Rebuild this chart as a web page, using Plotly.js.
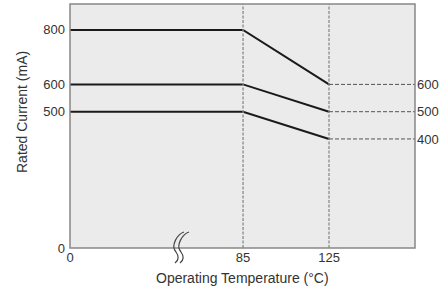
<!DOCTYPE html>
<html><head><meta charset="utf-8">
<script src="https://cdn.plot.ly/plotly-3.0.1.min.js"></script>
<style>html,body{margin:0;padding:0;background:#fff}#c{width:446px;height:293px}</style>
</head><body><div id="c"></div>
<script>
const temps = [0, 85, 125];
const currentHigh = [800, 800, 600];
const currentMid = [600, 600, 500];
const currentLow = [500, 500, 400];
const leftTicks = [0, 500, 600, 800];
const rightTicks = [600, 500, 400];
const xTicksLow = [0];
const xTicksHigh = [85, 125];
const markerTemps = [85, 125];

const W = 446, H = 293, L = 70, R = 415, T = 4, B = 248;
const yMax = 895, x2Min = 56.6, x2Max = 165, x1Max = 50;
const split = (182 - L) / (R - L);
const px = v => (v - L) / (R - L), py = v => (B - v) / (B - T);

const traces = [];
const series = [currentHigh, currentMid, currentLow];
for (const ax of ['x', 'x2']) {
  for (const s of series) {
    traces.push({x: temps, y: s, xaxis: ax, yaxis: 'y', mode: 'lines',
      line: {color: '#1a1a1a', width: 2}, hoverinfo: 'skip', showlegend: false});
  }
}
for (const t of markerTemps) {
  traces.push({x: [t, t], y: [0, yMax], xaxis: 'x2', yaxis: 'y', mode: 'lines',
    line: {color: '#8a8a8a', width: 1.3, dash: '3px,1.5px'}, hoverinfo: 'skip', showlegend: false});
}
for (const s of series) {
  const v = s[s.length - 1];
  traces.push({x: [temps[temps.length - 1], x2Max], y: [v, v], xaxis: 'x2', yaxis: 'y2', mode: 'lines',
    line: {color: '#555', width: 1, dash: '4px,2px'}, hoverinfo: 'skip', showlegend: false});
}

const font = {family: 'Liberation Sans, Arial, sans-serif', size: 13, color: '#333'};
const titleFont = {family: 'Liberation Sans, Arial, sans-serif', size: 14, color: '#333'};
const P = (x, y) => `${px(x)},${py(y)}`;
const squig = (d) =>
  `M ${P(186 + d, 232)} C ${P(180 + d, 234)} ${P(172 + d, 245)} ${P(178 + d, 252)} C ${P(181 + d, 256)} ${P(181 + d, 260)} ${P(177 + d, 263)}`;
const shapes = [
  {type: 'rect', xref: 'paper', yref: 'paper', x0: px(176.5), x1: px(180.5), y0: py(246), y1: py(250),
    fillcolor: '#fff', line: {width: 0}, layer: 'above'},
  {type: 'rect', xref: 'paper', yref: 'paper', x0: 0, x1: 1, y0: 0, y1: 1,
    line: {color: '#888', width: 1.5}, layer: 'above'},
  {type: 'path', xref: 'paper', yref: 'paper', path: squig(-2), line: {color: '#444', width: 1.2}, layer: 'above'},
  {type: 'path', xref: 'paper', yref: 'paper', path: squig(3), line: {color: '#444', width: 1.2}, layer: 'above'}
];

const layout = {
  width: W, height: H,
  margin: {l: L, r: W - R, t: T, b: H - B},
  paper_bgcolor: '#fff', plot_bgcolor: '#ebebeb',
  font: font, showlegend: false,
  xaxis: {domain: [0, split], range: [0, x1Max], tickvals: xTicksLow, ticktext: xTicksLow.map(String),
    showgrid: false, zeroline: false, showline: false, ticks: '', anchor: 'y', tickfont: font},
  xaxis2: {domain: [split, 1], range: [x2Min, x2Max], tickvals: xTicksHigh, ticktext: xTicksHigh.map(String),
    showgrid: false, zeroline: false, showline: false, ticks: '', anchor: 'y', tickfont: font},
  yaxis: {range: [0, yMax], tickvals: leftTicks, ticktext: leftTicks.map(String), showgrid: false,
    zeroline: false, showline: false, ticks: '', anchor: 'x', tickfont: font, ticklabelstandoff: 4},
  yaxis2: {range: [0, yMax], overlaying: 'y', side: 'right', anchor: 'x2', tickvals: rightTicks,
    ticktext: rightTicks.map(String), showgrid: false, zeroline: false, showline: false, ticks: '',
    tickfont: font, ticklabelstandoff: 1},
  shapes: shapes,
  annotations: [
    {text: 'Operating Temperature (°C)', xref: 'paper', yref: 'paper', x: 0.5, y: py(278),
      showarrow: false, font: titleFont, xanchor: 'center', yanchor: 'middle'},
    {text: 'Rated Current (mA)', xref: 'paper', yref: 'paper', x: px(22), y: py(112), textangle: -90,
      showarrow: false, font: titleFont, xanchor: 'center', yanchor: 'middle'}
  ]
};
Plotly.newPlot('c', traces, layout, {staticPlot: true, displayModeBar: false});
</script></body></html>
